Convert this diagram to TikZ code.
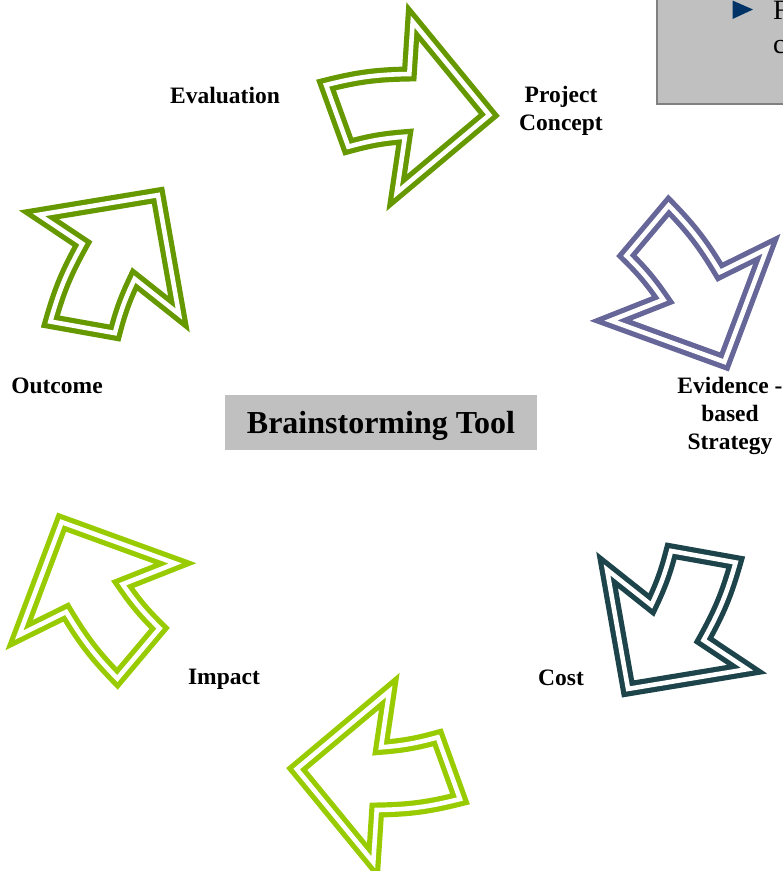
\documentclass[tikz,border=0pt]{standalone}
\usepackage{fontspec}
\setmainfont{Liberation Serif}
\definecolor{darkgreen}{HTML}{669900}
\definecolor{lightgreen}{HTML}{99CC00}
\definecolor{slatepurple}{HTML}{666699}
\definecolor{deepteal}{HTML}{1D444A}
\definecolor{boxgray}{HTML}{C0C0C0}
\definecolor{bordergray}{HTML}{808080}
\definecolor{bulletblue}{HTML}{003366}
\begin{document}
\begin{tikzpicture}[x=1pt,y=1pt,
  arrowshape/.style={draw=#1, double=white, double distance=4.6pt, line width=5.2pt, line join=miter, miter limit=10},
  lbl/.style={font=\fontsize{23.5}{28}\selectfont\bfseries, align=center, inner sep=0pt},
  pics/brarrow/.style={code={
    \draw[arrowshape=#1] (-67,357) to[bend left=6.6] (16.3,368) -- (19.7,420.3) -- (96.3,327)
      -- (3.7,249.3) -- (12,305.3) to[bend right=5.4] (-44.7,295.3) -- cycle;}}]
\useasboundingbox (0,0) rectangle (783,-871);
\clip (0,0) rectangle (783,-871);
\coordinate (C) at (393,-442);
% arrows
\pic[rotate=0] at (C) {brarrow=darkgreen};
\pic[rotate=-60] at (C) {brarrow=slatepurple};
\pic[rotate=-120] at (C) {brarrow=deepteal};
\pic[rotate=-180] at (C) {brarrow=lightgreen};
\pic[rotate=-240] at (C) {brarrow=lightgreen};
\pic[rotate=-300] at (C) {brarrow=darkgreen};
% labels
\node[lbl] (eval) at (225,-95) {Evaluation};
\node[lbl] (proj) at (561,-111) {Project\\Concept};
\node[lbl] (evid) at (730,-416) {Evidence -\\based\\Strategy};
\node[lbl] (outc) at (57,-386) {Outcome};
\node[lbl] (impa) at (224,-679) {Impact};
\node[lbl] (cost) at (561,-678) {Cost};
% centre title
\node[fill=boxgray, minimum width=312pt, minimum height=55pt, inner sep=0pt, text depth=0pt,
      font=\fontsize{32}{36}\selectfont\bfseries] (title) at (381,-422.5) {Brainstorming Tool};
% top-right partial box
\path[draw=bordergray, fill=boxgray, line width=2pt] (657,10) rectangle (800,-104);
\fill[bulletblue] (732.5,-0.5) -- (753,-9.5) -- (732.5,-19) -- cycle;
\node[anchor=base west, inner sep=0pt, font=\fontsize{28}{34}\selectfont] (t1) at (773,-19) {F};
\node[anchor=base west, inner sep=0pt, font=\fontsize{28}{34}\selectfont] (t2) at (773,-53) {c};
\end{tikzpicture}
\end{document}
